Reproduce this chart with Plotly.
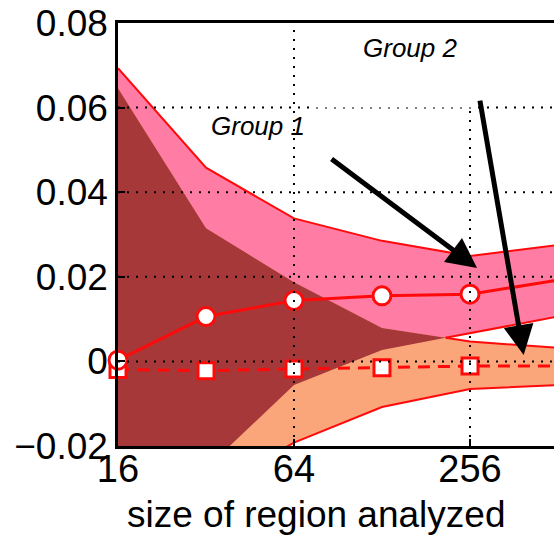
import numpy as np
import plotly.graph_objects as go

# ---------------- data ----------------
sizes = [16, 32, 64, 128, 256, 512]
group1_mean = [0.0003, 0.0106, 0.0144, 0.0155, 0.0159, 0.0192]
group1_upper = [0.0693, 0.0458, 0.0338, 0.0285, 0.0249, 0.0275]
group1_lower = [-0.045, -0.0253, -0.0056, 0.0027, 0.0067, 0.0106]
group2_mean = [-0.0019, -0.0022, -0.0018, -0.0015, -0.0011, -0.0011]
group2_upper = [0.0646, 0.0315, 0.0187, 0.0079, 0.0047, 0.0032]
group2_lower = [-0.06, -0.031, -0.0192, -0.0108, -0.0065, -0.0056]
x_ticks = [16, 64, 256]
y_ticks = [-0.02, 0, 0.02, 0.04, 0.06, 0.08]
y_ticktext = ["\u22120.02", "0", "0.02", "0.04", "0.06", "0.08"]
x_label = "size of region analyzed"
label_g1 = "Group 1"
label_g2 = "Group 2"

# ---------------- styles ----------------
PINK = "#FF7CA4"
ORANGE = "#FAA57A"
DARK = "#A6383A"
RED = "#FF0A0A"
FONT = "Liberation Sans, Arial, sans-serif"

xs = np.log2(sizes)
g1u, g1l = np.array(group1_upper), np.array(group1_lower)
g2u, g2l = np.array(group2_upper), np.array(group2_lower)

# overlap region of the two bands
lo = np.maximum(g1l, g2l)
hi = np.minimum(g1u, g2u)
d = hi - lo
ov_x, ov_hi, ov_lo = [], [], []
e1x, e1y, e2x, e2y = [], [], [], []
n = len(xs)
for i in range(n):
    if d[i] >= 0:
        ov_x.append(xs[i]); ov_hi.append(hi[i]); ov_lo.append(lo[i])
    else:
        e1x.append(xs[i]); e1y.append(g1l[i])
        e2x.append(xs[i]); e2y.append(g2u[i])
    if i < n - 1 and (d[i] >= 0) != (d[i + 1] >= 0):
        t = d[i] / (d[i] - d[i + 1])
        xc = xs[i] + t * (xs[i + 1] - xs[i])
        yc = lo[i] + t * (lo[i + 1] - lo[i])
        ov_x.append(xc); ov_hi.append(yc); ov_lo.append(yc)
        e1x.append(xc); e1y.append(yc)
        e2x.append(xc); e2y.append(yc)

fig = go.Figure()


def band(x, up, low, color):
    fig.add_trace(go.Scatter(
        x=list(x) + list(x)[::-1], y=list(up) + list(low)[::-1],
        fill="toself", fillcolor=color, mode="lines", line=dict(width=0),
        hoverinfo="skip", showlegend=False))


band(xs, g1u, g1l, PINK)
band(xs, g2u, g2l, ORANGE)
band(ov_x, ov_hi, ov_lo, DARK)

for ex, ey in [(xs, g1u), (xs, g2l), (e1x, e1y), (e2x, e2y)]:
    fig.add_trace(go.Scatter(x=ex, y=ey, mode="lines",
                             line=dict(color=RED, width=2),
                             hoverinfo="skip", showlegend=False))

fig.add_trace(go.Scatter(
    x=xs, y=group2_mean, mode="lines+markers",
    line=dict(color=RED, width=3, dash="12px,8px"),
    marker=dict(symbol="square", size=16, color="white",
                line=dict(color=RED, width=3)),
    cliponaxis=False, showlegend=False))
fig.add_trace(go.Scatter(
    x=xs, y=group1_mean, mode="lines+markers",
    line=dict(color=RED, width=3),
    marker=dict(symbol="circle", size=18, color="white",
                line=dict(color=RED, width=3)),
    cliponaxis=False, showlegend=False))

# dotted grid drawn above the fills
shapes = []
for v in np.log2(x_ticks):
    if v > xs[0]:
        shapes.append(dict(type="line", xref="x", yref="paper", x0=v, x1=v,
                           y0=0, y1=1, layer="above",
                           line=dict(color="black", width=2, dash="2px,7px")))
for v in y_ticks[1:-1]:
    shapes.append(dict(type="line", xref="paper", yref="y", x0=0, x1=1,
                       y0=v, y1=v, layer="above",
                       line=dict(color="black", width=2, dash="2px,7px")))
shapes.append(dict(type="rect", xref="paper", yref="paper", x0=0.447, x1=0.82,
                   y0=0.80, y1=0.994, layer="above",
                   fillcolor="white", line=dict(width=0)))

annotations = [
    dict(text="<i>%s</i>" % label_g1, xref="paper", yref="paper",
         x=0.321, y=0.757, xanchor="center", yanchor="middle", showarrow=False,
         font=dict(family=FONT, size=26, color="black")),
    dict(text="<i>%s</i>" % label_g2, xref="paper", yref="paper",
         x=0.670, y=0.941, xanchor="center", yanchor="middle", showarrow=False,
         font=dict(family=FONT, size=26, color="black")),
    dict(text="", x=8.08, y=0.0221, ax=6.41, ay=0.0481,
         xref="x", yref="y", axref="x", ayref="y", showarrow=True,
         arrowhead=2, arrowsize=1.2, arrowwidth=5, arrowcolor="black", standoff=0),
    dict(text="", x=8.61, y=0.0015, ax=8.11, ay=0.062,
         xref="x", yref="y", axref="x", ayref="y", showarrow=True,
         arrowhead=2, arrowsize=1.2, arrowwidth=5, arrowcolor="black", standoff=0),
    dict(text=x_label, xref="paper", yref="paper", x=0.454, y=-0.163,
         xanchor="center", yanchor="middle", showarrow=False,
         font=dict(family=FONT, size=37, color="black")),
]

fig.update_layout(
    width=554, height=536,
    margin=dict(l=118, r=0, t=23, b=90),
    paper_bgcolor="white", plot_bgcolor="white",
    shapes=shapes, annotations=annotations,
    xaxis=dict(range=[4, 4 + 436 / 88], tickvals=list(np.log2(x_ticks)),
               ticktext=[str(v) for v in x_ticks], showgrid=False, zeroline=False,
               showline=True, linecolor="black", linewidth=2.5, mirror=True,
               ticks="inside", ticklen=7, tickwidth=2, tickcolor="black",
               ticklabelstandoff=-12,
               tickfont=dict(family=FONT, size=38, color="black")),
    yaxis=dict(range=[-0.02, 0.08], tickvals=y_ticks, ticktext=y_ticktext,
               showgrid=False, zeroline=False, showline=True, linecolor="black",
               linewidth=2.5, ticks="inside", ticklen=7, tickwidth=2,
               tickcolor="black",
               tickfont=dict(family=FONT, size=37, color="black")),
)

fig.write_html("out.html",
               config={"displayModeBar": False},
               post_script="document.body.style.margin='0';"
                           "document.body.style.overflow='hidden';")
